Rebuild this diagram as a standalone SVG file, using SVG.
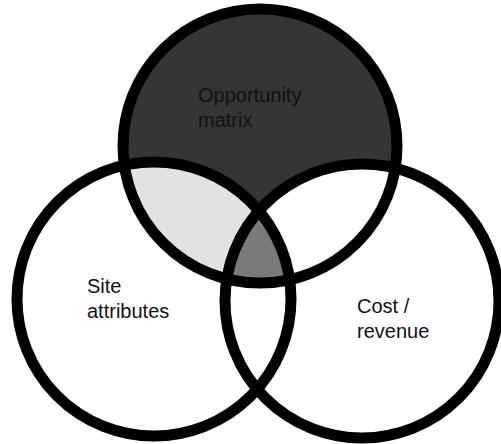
<svg xmlns="http://www.w3.org/2000/svg" width="501" height="444" viewBox="0 0 501 444">
  <style>
    .ring { fill: none; stroke: #000; stroke-width: 11; }
    .label { font-family: "Liberation Sans", Arial, sans-serif; font-size: 20px; fill: #111; }
  </style>
  <defs>
    <clipPath id="clipTop"><circle cx="260" cy="146" r="137"/></clipPath>
    <clipPath id="clipRight"><circle cx="362" cy="301" r="137"/></clipPath>
  </defs>
  <rect width="501" height="444" fill="#fff"/>
  <g id="fills">
    <circle cx="260" cy="146" r="137" fill="#353535"/>
    <g clip-path="url(#clipTop)">
      <circle cx="154" cy="299" r="137" fill="#e2e2e2"/>
      <circle cx="362" cy="301" r="137" fill="#ffffff"/>
      <g clip-path="url(#clipRight)">
        <circle cx="154" cy="299" r="137" fill="#7a7a7a"/>
      </g>
    </g>
  </g>
  <g id="opportunity-matrix">
    <circle class="ring" cx="260" cy="146" r="137"/>
    <text class="label" x="198" y="102">Opportunity</text>
    <text class="label" x="198" y="127">matrix</text>
  </g>
  <g id="site-attributes">
    <circle class="ring" cx="154" cy="299" r="137"/>
    <text class="label" x="87" y="293">Site</text>
    <text class="label" x="87" y="318">attributes</text>
  </g>
  <g id="cost-revenue">
    <circle class="ring" cx="362" cy="301" r="137"/>
    <text class="label" x="357" y="313">Cost /</text>
    <text class="label" x="357" y="338">revenue</text>
  </g>
  <g id="connectors"></g>
</svg>
